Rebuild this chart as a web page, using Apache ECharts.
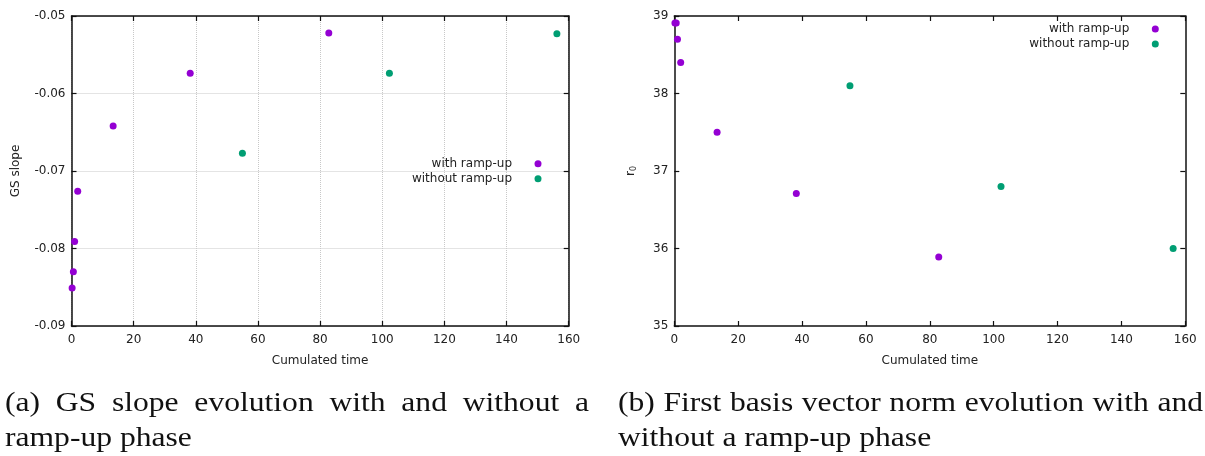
<!DOCTYPE html>
<html><head><meta charset="utf-8">
<script src="https://cdn.jsdelivr.net/npm/echarts@6/dist/echarts.min.js"></script>
<style>html,body{margin:0;padding:0;background:#fff}#c{width:1205px;height:456px}</style>
</head><body><div id="c"></div>
<script>
// ---- data ----
const seriesNames = ['with ramp-up', 'without ramp-up'];
const timeWith = [0.2, 0.6, 1.0, 2.0, 13.4, 38.2, 82.8];
const timeWithout = [55.0, 102.3, 156.2];
const slopeWith = [-0.0851, -0.0830, -0.0791, -0.0726, -0.0642, -0.0574, -0.0522];
const slopeWithout = [-0.0677, -0.0574, -0.0523];
const normWith = [38.91, 38.91, 38.70, 38.40, 37.50, 36.71, 35.89];
const normWithout = [38.10, 36.80, 36.00];
const xRange = [0, 160, 20];
const slopeRange = [-0.09, -0.05, 0.01];
const normRange = [35, 39, 1];
const captionA = ['(a) GS slope evolution with and without a', 'ramp-up phase'];
const captionB = ['(b) First basis vector norm evolution with and', 'without a ramp-up phase'];

const colors = ['#9400d3', '#009e73'];
const txt = '#222';
const FONT = 'DejaVu Sans';
const zip = (a, b) => a.map((v, i) => [v, b[i]]);

function xAxisDef(grid, pos, showLabel, split) {
  return {
    type: 'value', gridIndex: grid, position: pos,
    min: xRange[0], max: xRange[1], interval: xRange[2],
    name: showLabel ? 'Cumulated time' : '', nameLocation: 'middle', nameGap: 29,
    nameTextStyle: { color: txt, fontSize: 12, fontFamily: FONT },
    axisLine: { show: true, onZero: false, lineStyle: { color: '#111', width: 1.5 } },
    axisTick: { show: true, inside: true, length: 5, lineStyle: { color: '#111', width: 1.2 } },
    axisLabel: { show: showLabel, color: txt, fontSize: 12, fontFamily: FONT, margin: 8 },
    splitLine: { show: split, lineStyle: { type: 'dotted', color: '#c8c8c8', width: 1 } }
  };
}
function yAxisDef(grid, pos, range, showLabel, split, name, gap, fmt) {
  return {
    type: 'value', gridIndex: grid, position: pos,
    min: range[0], max: range[1], interval: range[2],
    name: showLabel ? name : '', nameLocation: 'middle', nameGap: gap,
    nameTextStyle: { color: txt, fontSize: 12, fontFamily: FONT,
      rich: { s: { fontSize: 8, fontFamily: FONT, color: txt, verticalAlign: 'bottom', padding: [6, 0, 0, 0] } } },
    axisLine: { show: true, onZero: false, lineStyle: { color: '#111', width: 1.5 } },
    axisTick: { show: true, inside: true, length: 5, lineStyle: { color: '#111', width: 1.2 } },
    axisLabel: { show: showLabel, color: txt, fontSize: 12, fontFamily: FONT, margin: 6, formatter: fmt },
    splitLine: { show: split, lineStyle: { type: 'dotted', color: '#c8c8c8', width: 1 } }
  };
}
function scatter(name, xi, yi, data, color) {
  return { type: 'scatter', name, xAxisIndex: xi, yAxisIndex: yi, data,
    symbol: 'circle', symbolSize: 7, itemStyle: { color, opacity: 1 }, silent: true, animation: false };
}
function legendDef(right, top) {
  return { data: seriesNames, orient: 'vertical', align: 'right', right, top, padding: 0,
    itemWidth: 42, itemHeight: 7, itemGap: 0, icon: 'circle', selectedMode: false,
    itemStyle: { opacity: 1 },
    textStyle: { color: txt, fontSize: 12, fontFamily: FONT, lineHeight: 15 } };
}

// caption builder (justified first line), serif text widened to mimic Computer Modern
const CAP_FONT_SIZE = 27, CAP_FAMILY = 'Liberation Serif', CAP_SCALE = 1.17;
function captionEls(lines, x0, x1, y1, y2) {
  const ctx = document.createElement('canvas').getContext('2d');
  ctx.font = CAP_FONT_SIZE + 'px "' + CAP_FAMILY + '"';
  const words = lines[0].split(' ');
  const widths = words.map(w => ctx.measureText(w).width * CAP_SCALE);
  const total = widths.reduce((a, b) => a + b, 0);
  const gap = (x1 - x0 - total) / (words.length - 1);
  const style = t => ({ text: t, fontSize: CAP_FONT_SIZE, fontFamily: CAP_FAMILY, fill: '#111', verticalAlign: 'middle' });
  const els = [];
  let x = x0;
  words.forEach((w, i) => {
    els.push({ type: 'text', x, y: y1, scaleX: CAP_SCALE, silent: true, style: style(w) });
    x += widths[i] + gap;
  });
  els.push({ type: 'text', x: x0, y: y2, scaleX: CAP_SCALE, silent: true, style: style(lines[1]) });
  return els;
}

const chart = echarts.init(document.getElementById('c'), null, { renderer: 'canvas' });
chart.setOption({
  animation: false,
  backgroundColor: '#fff',
  grid: [
    { left: 71.5, top: 16, right: 636.3, bottom: 130 },
    { left: 674.3, top: 16, right: 19.7, bottom: 130 }
  ],
  xAxis: [
    xAxisDef(0, 'bottom', true, true),
    xAxisDef(0, 'top', false, false),
    xAxisDef(1, 'bottom', true, false),
    xAxisDef(1, 'top', false, false)
  ],
  yAxis: [
    yAxisDef(0, 'left', slopeRange, true, true, 'GS slope', 50, v => v.toFixed(2)),
    yAxisDef(0, 'right', slopeRange, false, false, '', 0, null),
    yAxisDef(1, 'left', normRange, true, false, 'r{s|0}', 36, v => String(Math.round(v))),
    yAxisDef(1, 'right', normRange, false, false, '', 0, null)
  ],
  legend: [legendDef(663.5, 156.2), legendDef(46.2, 21.5)],
  series: [
    scatter(seriesNames[0], 0, 0, zip(timeWith, slopeWith), colors[0]),
    scatter(seriesNames[1], 0, 0, zip(timeWithout, slopeWithout), colors[1]),
    scatter(seriesNames[0], 2, 2, zip(timeWith, normWith), colors[0]),
    scatter(seriesNames[1], 2, 2, zip(timeWithout, normWithout), colors[1])
  ],
  graphic: captionEls(captionA, 5, 589, 404, 439).concat(captionEls(captionB, 618, 1203, 404, 439))
});
</script></body></html>
